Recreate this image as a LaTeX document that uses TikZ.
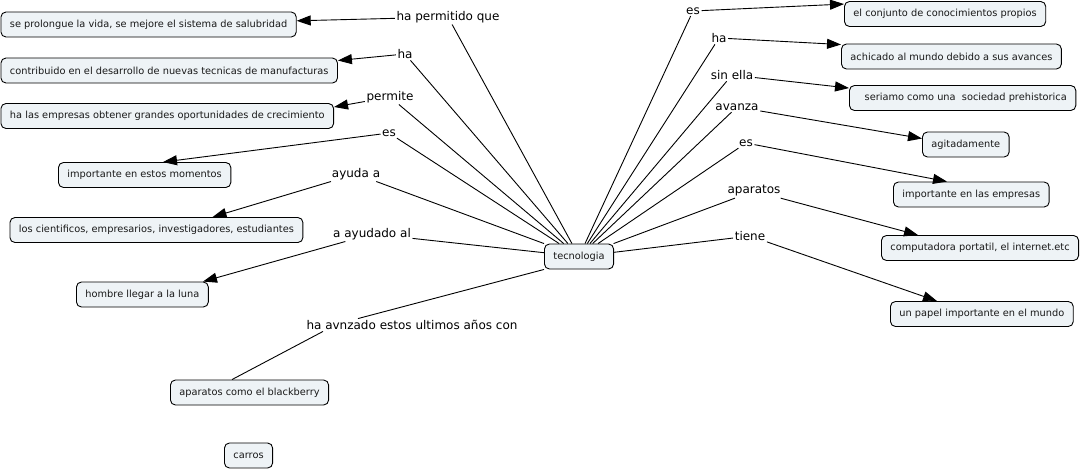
\documentclass[tikz,border=0pt]{standalone}
\usepackage{fontspec}
\setmainfont{DejaVu Sans}
\usetikzlibrary{arrows.meta,calc}
\definecolor{cfill}{RGB}{238,243,246}
\definecolor{ctext}{RGB}{25,25,25}
\begin{document}
\begin{tikzpicture}[x=1pt,y=-1pt,
  concept/.style={draw=black,line width=0.9pt,fill=cfill,rounded corners=5pt,anchor=west,
    font=\fontsize{9.8}{11}\selectfont,text=ctext,inner xsep=9pt,inner ysep=0pt,minimum height=25pt},
  link/.style={font=\fontsize{12}{14}\selectfont,inner sep=1.5pt,text=black},
  conn/.style={draw=black,line width=0.9pt},
  arr/.style={conn,-{Triangle[length=14pt,width=10pt]}}]
\useasboundingbox (0,0) rectangle (1083,469);

% concepts (placed by their left edges)
\node[concept] (salud) at (0.5,24.5) {se prolongue la vida, se mejore el sistema de salubridad};
\node[concept] (manuf) at (0.5,70.5) {contribuido en el desarrollo de nuevas tecnicas de manufacturas};
\node[concept] (empr) at (0.5,116) {ha las empresas obtener grandes oportunidades de crecimiento};
\node[concept] (impm) at (58,175) {importante en estos momentos};
\node[concept] (cient) at (9.5,230) {los cientificos, empresarios, investigadores, estudiantes};
\node[concept] (luna) at (76,294.5) {hombre llegar a la luna};
\node[concept] (black) at (170,392.5) {aparatos como el blackberry};
\node[concept] (carros) at (224,455.5) {carros};
\node[concept] (tec) at (544,256.5) {tecnologia};
\node[concept] (conj) at (844,14) {el conjunto de conocimientos propios};
\node[concept] (achic) at (841,56.5) {achicado al mundo debido a sus avances};
\node[concept] (seri) at (849,98) {\ \ seriamo como una\ \ sociedad prehistorica};
\node[concept] (agit) at (922,144.5) {agitadamente};
\node[concept] (impe) at (893,194.5) {importante en las empresas};
\node[concept] (comp) at (881,248) {computadora portatil, el internet.etc};
\node[concept] (papel) at (890,314) {un papel importante en el mundo};

% linking phrases
\node[link] (hpq) at (448,17) {ha permitido que};
\node[link] (ha1) at (405,54) {ha};
\node[link] (perm) at (390,97) {permite};
\node[link] (es1) at (389,133) {es};
\node[link] (ayu) at (356,174) {ayuda a};
\node[link] (ayal) at (372,234) {a ayudado al};
\node[link] (avn) at (412,325) {ha avnzado estos ultimos años con};
\node[link] (es2) at (693,11) {es};
\node[link] (ha2) at (719,38) {ha};
\node[link] (sin) at (732,75) {sin ella};
\node[link] (avz) at (737,107) {avanza};
\node[link] (es3) at (746,143) {es};
\node[link] (apa) at (754,191) {aparatos};
\node[link] (tie) at (750,236) {tiene};

% tecnologia to linking phrases
\foreach \l in {hpq,ha1,perm,es1,ayu,ayal,es2,ha2,sin,avz,es3,apa,tie}
  \draw[conn] (tec) -- (\l);
\draw[conn] (tec.south west) -- ([xshift=-54pt]avn.north);

% linking phrases to concepts
\draw[arr] (hpq) -- (salud);
\draw[arr] (ha1) -- ([yshift=10pt]manuf.east);
\draw[arr] (perm) -- ([yshift=9pt]empr.east);
\draw[arr] (es1) -- ([xshift=105pt]impm.north west);
\draw[arr] (ayu) -- ([xshift=203pt]cient.north west);
\draw[arr] (ayal) -- ([xshift=127pt]luna.north west);
\draw[conn] ([xshift=-89pt]avn.south) -- ([xshift=62pt]black.north west);
\draw[arr] (es2) -- ([yshift=-3pt]conj.north west);
\draw[arr] (ha2) -- ([yshift=-1pt]achic.north west);
\draw[arr] (sin) -- ([yshift=-3pt]seri.north west);
\draw[arr] (avz) -- ([yshift=6pt]agit.west);
\draw[arr] (es3) -- ([xshift=54pt]impe.north west);
\draw[arr] (apa) -- ([xshift=37pt]comp.north west);
\draw[arr] (tie) -- ([xshift=47pt]papel.north west);
\end{tikzpicture}
\end{document}
